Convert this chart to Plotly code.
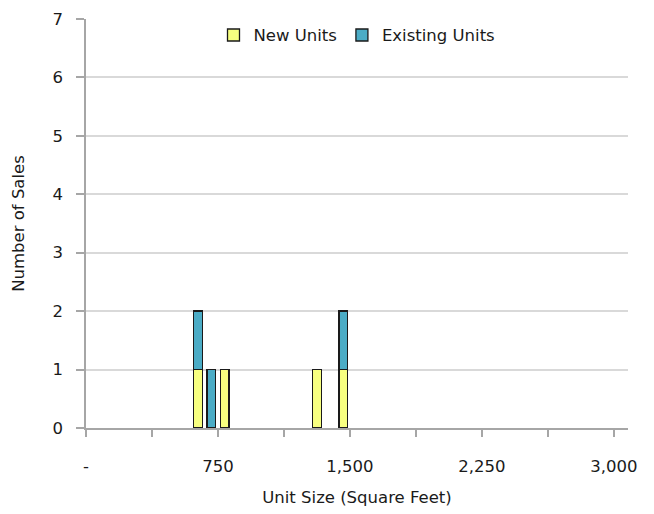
import plotly.graph_objects as go

# Unit size bins (75 sq ft wide), labelled by bin centre
bin_centers = [637.5, 712.5, 787.5, 1312.5, 1462.5]
new_units = [1, 0, 1, 1, 1]
existing_units = [1, 1, 0, 0, 1]

bin_width = 75
x_tick_vals = [0, 375, 750, 1125, 1500, 1875, 2250, 2625, 3000]
x_tick_text = ["-", "", "750", "", "1,500", "", "2,250", "", "3,000"]

font_family = "'DejaVu Sans', sans-serif"
text_color = "#1a1a1a"

fig = go.Figure()
fig.add_trace(go.Bar(
    x=bin_centers, y=new_units, name="New Units",
    width=bin_width * 0.66,
    marker=dict(color="#F7FF80", line=dict(color="#1a1a1a", width=1.3)),
))
fig.add_trace(go.Bar(
    x=bin_centers, y=existing_units, name="Existing Units",
    width=bin_width * 0.66,
    marker=dict(color="#4BACC6", line=dict(color="#1a1a1a", width=1.3)),
))

fig.update_layout(
    barmode="stack",
    width=654, height=514,
    margin=dict(l=86, r=26, t=19, b=86),
    plot_bgcolor="white", paper_bgcolor="white",
    font=dict(family=font_family, size=16.5, color=text_color),
    showlegend=True,
    legend=dict(
        orientation="h", x=0.5, xanchor="center", y=1.003, yanchor="top",
        bgcolor="rgba(0,0,0,0)", font=dict(size=16.5),
        itemwidth=30, traceorder="normal",
    ),
    xaxis=dict(
        range=[0, 3080], automargin=False,
        tickmode="array", tickvals=x_tick_vals, ticktext=x_tick_text,
        ticks="outside", ticklen=7, tickwidth=1.5, tickcolor="#A6A6A6",
        showline=True, linecolor="#A6A6A6", linewidth=1.5,
        showgrid=False, zeroline=False,
        ticklabelstandoff=15,
        title=dict(text="Unit Size (Square Feet)", standoff=17,
                   font=dict(size=16.5)),
    ),
    yaxis=dict(
        range=[0, 7], dtick=1, automargin=False,
        ticks="outside", ticklen=8, tickwidth=1.5, tickcolor="#A6A6A6",
        showline=True, linecolor="#A6A6A6", linewidth=1.5,
        showgrid=True, gridcolor="#D9D9D9", gridwidth=1.5,
        zeroline=False,
        ticklabelstandoff=10,
        title=dict(text="Number of Sales", standoff=24, font=dict(size=16.5)),
    ),
)

fig.write_html("out.html")
